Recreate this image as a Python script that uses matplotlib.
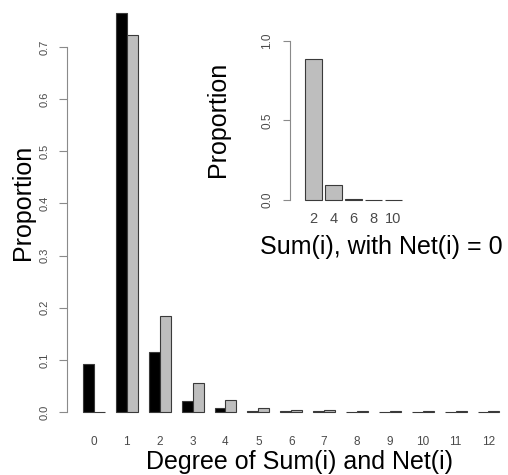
import matplotlib
matplotlib.use("Agg")
import matplotlib.pyplot as plt

plt.rcParams['font.family'] = ['Liberation Sans', 'DejaVu Sans']

# degree distributions
degree = list(range(13))
net_prop = [0.092, 0.766, 0.115, 0.021, 0.007, 0.002, 0.001, 0.001, 0.0006, 0.0005, 0.0004, 0.0004, 0.0003]
sum_prop = [0.0, 0.724, 0.185, 0.056, 0.023, 0.007, 0.003, 0.003, 0.0015, 0.0012, 0.001, 0.001, 0.001]

# inset: Sum(i) for nodes with Net(i) = 0
inset_deg = [2, 4, 6, 8, 10]
inset_prop = [0.887, 0.094, 0.006, 0.003, 0.003]

axis_col = '#8a8a8a'
text_col = '#4a4a4a'
edge_col = '#3a3a3a'
gray_fill = '#bebebe'

fig = plt.figure(figsize=(5.08, 4.75), dpi=100)
ax = fig.add_axes([0.1319, 0.1107, 0.862, 0.878])

xb = [3 * d + 1 for d in degree]
xg = [3 * d + 2 for d in degree]
ax.bar(xb, net_prop, width=1, align='edge', color='black', edgecolor=edge_col, linewidth=0.8, clip_on=False)
ax.bar(xg, sum_prop, width=1, align='edge', color=gray_fill, edgecolor=edge_col, linewidth=0.8, clip_on=False)

ax.set_xlim(-0.46, 39.5)
ax.set_ylim(-0.02, 0.78)
for s in ['top', 'right', 'bottom']:
    ax.spines[s].set_visible(False)
ax.spines['left'].set_bounds(0, 0.7)
ax.spines['left'].set_color(axis_col)
ax.set_xticks([3 * d + 2 for d in degree])
ax.set_xticklabels([str(d) for d in degree], fontsize=8.5, color=text_col)
ax.tick_params(axis='x', length=0, pad=10)
yt = [0.0, 0.1, 0.2, 0.3, 0.4, 0.5, 0.6, 0.7]
ax.set_yticks(yt)
ax.set_yticklabels([f'{v:.1f}' for v in yt], fontsize=8, color=text_col, rotation=90, va='center')
ax.tick_params(axis='y', length=5.8, width=0.8, color=axis_col, pad=7)

fig.text(300 / 508, 1 - 462 / 475, 'Degree of Sum(i) and Net(i)', fontsize=18, ha='center', va='center')
fig.text(23 / 508, 1 - 202 / 475, 'Proportion', fontsize=18, rotation=90, ha='center', va='center')

# inset
ins = fig.add_axes([0.5709, 0.5655, 0.2264, 0.3819])
ins.patch.set_visible(False)
xi = [0.2 + 1.2 * i for i in range(len(inset_deg))]
ins.bar(xi, inset_prop, width=1, align='edge', color=gray_fill, edgecolor=edge_col, linewidth=0.8)
ins.set_xlim(-0.7, 6.2)
ins.set_ylim(-0.04, 1.1)
for s in ['top', 'right', 'bottom']:
    ins.spines[s].set_visible(False)
ins.spines['left'].set_bounds(0, 1)
ins.spines['left'].set_color(axis_col)
ins.set_xticks([x + 0.5 for x in xi])
ins.set_xticklabels([str(d) for d in inset_deg], fontsize=10.5, color=text_col)
ins.tick_params(axis='x', length=0, pad=4)
ins.set_yticks([0, 0.5, 1.0])
ins.set_yticklabels(['0.0', '0.5', '1.0'], fontsize=8.5, color=text_col, rotation=90, va='center')
ins.tick_params(axis='y', length=5, width=0.8, color=axis_col, pad=7)

fig.text(218 / 508, 1 - 119 / 475, 'Proportion', fontsize=18, rotation=90, ha='center', va='center')
fig.text(381 / 508, 1 - 247 / 475, 'Sum(i), with Net(i) = 0', fontsize=18, ha='center', va='center')

fig.savefig('out.png', dpi=100)
